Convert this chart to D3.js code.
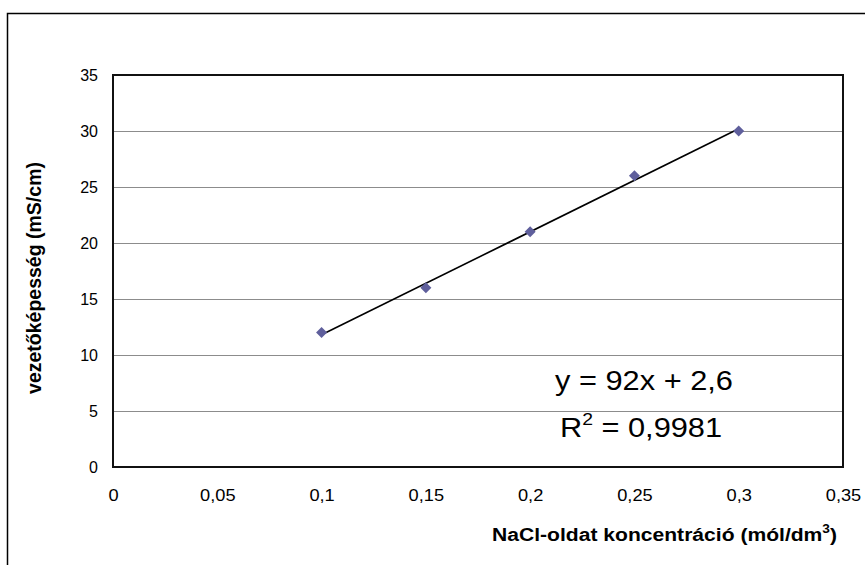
<!DOCTYPE html>
<html>
<head>
<meta charset="utf-8">
<script src="https://cdn.jsdelivr.net/npm/d3@7"></script>
<style>
  html, body { margin: 0; padding: 0; background: #fff; }
  svg { display: block; font-family: "Liberation Sans", Arial, sans-serif; }
</style>
</head>
<body>
<svg id="chart" width="865" height="565"></svg>
<script>
// ---- data ----
const concentrations = [0.1, 0.15, 0.2, 0.25, 0.3];
const conductivity = [12, 16, 21, 26, 30];
const xTicks = [0, 0.05, 0.1, 0.15, 0.2, 0.25, 0.3, 0.35];
const yTicks = [0, 5, 10, 15, 20, 25, 30, 35];
const xTitle = "NaCl-oldat koncentráció (mól/dm";
const yTitle = "vezetőképesség (mS/cm)";
const equationText = "y = 92x + 2,6";
const r2Value = " = 0,9981";

const svg = d3.select("#chart");
const plot = { left: 113, top: 75, right: 843, bottom: 467 };
const stretch = 1.14; // horizontal stretch of the original's text

// outer chart border
svg.append("rect")
  .attr("x", 7.5).attr("y", 13.5)
  .attr("width", 900).attr("height", 600)
  .attr("fill", "#fff").attr("stroke", "#000").attr("stroke-width", 1.5);

const x = d3.scaleLinear().domain([0, 0.35]).range([plot.left, plot.right]);
const y = d3.scaleLinear().domain([0, 35]).range([plot.bottom, plot.top]);

const fmt = d => String(+d.toFixed(2)).replace(".", ",");

// gridlines
svg.append("g")
  .attr("transform", `translate(${plot.left},0)`)
  .call(d3.axisLeft(y).tickValues(yTicks.filter(t => t > 0 && t < 35))
    .tickSize(-(plot.right - plot.left)).tickFormat(""))
  .call(g => g.select(".domain").remove())
  .call(g => g.selectAll("line").attr("stroke", "#8c8c8c").attr("stroke-width", 1));

// y axis labels
svg.append("g")
  .attr("transform", `translate(${plot.left},0)`)
  .call(d3.axisLeft(y).tickValues(yTicks).tickSize(0).tickPadding(15).tickFormat(fmt))
  .call(g => g.select(".domain").remove())
  .call(g => g.selectAll("text").attr("font-size", 16).attr("fill", "#000")
    .attr("font-family", "Liberation Sans, Arial, sans-serif"));

// x axis labels
svg.append("g")
  .attr("transform", `translate(0,${plot.bottom})`)
  .call(d3.axisBottom(x).tickValues(xTicks).tickSize(0).tickPadding(23).tickFormat(fmt))
  .call(g => g.select(".domain").remove())
  .call(g => g.selectAll(".tick text").attr("font-size", 16).attr("fill", "#000")
    .attr("font-family", "Liberation Sans, Arial, sans-serif")
    .attr("transform", `scale(${stretch},1)`));

// plot area border
svg.append("rect")
  .attr("x", plot.left).attr("y", plot.top)
  .attr("width", plot.right - plot.left).attr("height", plot.bottom - plot.top)
  .attr("fill", "none").attr("stroke", "#111").attr("stroke-width", 2);

// linear regression trendline
const mx = d3.mean(concentrations), my = d3.mean(conductivity);
let sxy = 0, sxx = 0;
concentrations.forEach((c, i) => { sxy += (c - mx) * (conductivity[i] - my); sxx += (c - mx) ** 2; });
const slope = sxy / sxx, intercept = my - slope * mx;
const x0 = d3.min(concentrations), x1 = d3.max(concentrations);
svg.append("line")
  .attr("x1", x(x0)).attr("y1", y(slope * x0 + intercept))
  .attr("x2", x(x1)).attr("y2", y(slope * x1 + intercept))
  .attr("stroke", "#000").attr("stroke-width", 1.6);

// markers (diamonds)
const data = concentrations.map((c, i) => ({ c, v: conductivity[i] }));
svg.append("g").selectAll("path").data(data).join("path")
  .attr("transform", d => `translate(${x(d.c)},${y(d.v)})`)
  .attr("d", "M0,-5.5L5.5,0L0,5.5L-5.5,0Z")
  .attr("fill", "#5f5f9c");

// equation labels
svg.append("g").attr("transform", `translate(644,390) scale(${stretch},1)`)
  .append("text")
  .attr("text-anchor", "middle")
  .attr("font-size", 27).attr("fill", "#000")
  .text(equationText);

const r2 = svg.append("g").attr("transform", `translate(641,437) scale(${stretch},1)`)
  .append("text")
  .attr("text-anchor", "middle")
  .attr("font-size", 27).attr("fill", "#000");
r2.append("tspan").text("R");
r2.append("tspan").attr("dy", -12).attr("font-size", 17).text("2");
r2.append("tspan").attr("dy", 12).text(r2Value);

// axis titles
svg.append("text")
  .attr("transform", `translate(41,${278}) rotate(-90)`)
  .attr("text-anchor", "middle")
  .attr("font-size", 19.5).attr("font-weight", "bold").attr("fill", "#000")
  .text(yTitle);

const xt = svg.append("g").attr("transform", `translate(837,541) scale(${stretch},1)`)
  .append("text")
  .attr("text-anchor", "end")
  .attr("font-size", 18.5).attr("font-weight", "bold").attr("fill", "#000");
xt.append("tspan").text(xTitle);
xt.append("tspan").attr("dy", -8).attr("font-size", 12).text("3");
xt.append("tspan").attr("dy", 8).text(")");
</script>
</body>
</html>
